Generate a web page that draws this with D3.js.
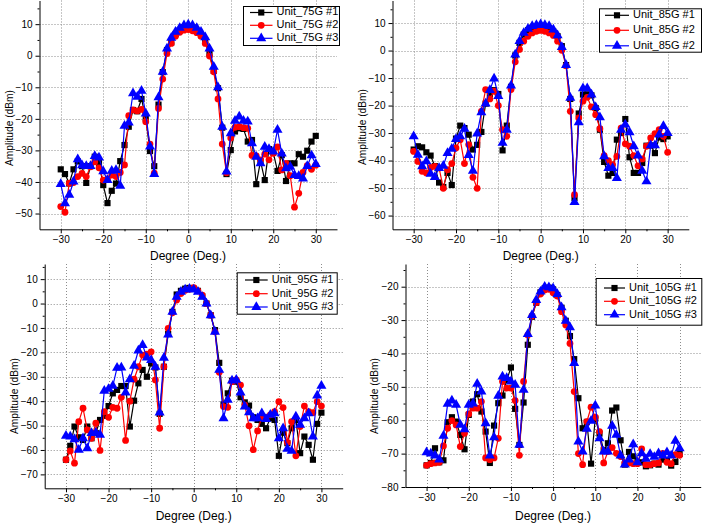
<!DOCTYPE html>
<html><head><meta charset="utf-8">
<script src="https://cdn.jsdelivr.net/npm/d3@7"></script>
<style>
body{margin:0;background:#fff}
svg{display:block}
text{font-family:Arial,"Liberation Sans",sans-serif;fill:#000}
</style>
</head><body>
<svg id="chart" width="706" height="526"></svg>
<script>
// ---------- DATA ----------
const degrees = [-30,-29,-28,-27,-26,-25,-24,-23,-22,-21,-20,-19,-18,-17,-16,-15,-14,-13,-12,-11,-10,-9,-8,-7,-6,-5,-4,-3,-2,-1,0,1,2,3,4,5,6,7,8,9,10,11,12,13,14,15,16,17,18,19,20,21,22,23,24,25,26,27,28,29,30];
const xTickValues = [-30,-20,-10,0,10,20,30];
const xMinorValues = [-25,-15,-5,5,15,25];

const names75 = ["Unit_75G #1","Unit_75G #2","Unit_75G #3"];
const names85 = ["Unit_85G #1","Unit_85G #2","Unit_85G #2"];
const names95 = ["Unit_95G #1","Unit_95G #2","Unit_95G #3"];
const names105 = ["Unit_105G #1","Unit_105G #2","Unit_105G #3"];

const yTicks75 = [-50,-40,-30,-20,-10,0,10];
const yTicks85 = [-60,-50,-40,-30,-20,-10,0,10];
const yTicks95 = [-70,-60,-50,-40,-30,-20,-10,0,10];
const yTicks105 = [-80,-70,-60,-50,-40,-30,-20];

const unit75_1 = [-36,-37.5,-40.5,-36,-33.5,-35,-40.3,-35,-32,-34, -41,-46.7,-42.8,-40.5,-33.4,-28.3,-22.5,-17.2,-17.6,-13.7, -19.8,-30.2,-35,-15.5,-5.2,1.8,4.2,6.9,8.1,9, 9.4, 9,7.9,6.5,4.8,0.7,-4.8,-10.3,-22.8,-37.5,-29.9, -24,-23,-23.2,-27.2,-26.7,-40.7,-33.4,-39.4,-29.6,-30.7, -36.5,-31.5,-39.7,-34.1,-34.1,-31.2,-32,-30.1,-27.2,-25.4];
const unit75_2 = [-47.8,-49.6,-40.4,-40.2,-38.3,-37.3,-38.3,-35.2,-33.6,-35.5, -39.4,-39,-37.8,-38.3,-37,-34.6,-19,-17.2,-17.5,-17, -20.9,-28,-37.2,-16.7,-7.4,0.7,3.9,6.2,7.4,8.1, 8.3, 7.9,7.3,6.2,3.9,-0.1,-5.1,-13.7,-28,-37.1,-26.1, -22.7,-22.5,-22.8,-23,-31.6,-31.7,-33,-31.2,-33,-30.9, -28.9,-36.2,-34.1,-38,-48,-43.6,-37,-34.8,-36,-34.7];
const unit75_3 = [-40.7,-46.8,-44.1,-39.9,-32.8,-34.7,-35,-35,-31.8,-32.3, -36.6,-39.4,-36.5,-36.2,-41.2,-22.2,-21.2,-11.9,-13,-11.1, -18.3,-28.8,-37.5,-13.2,-5.1,2.3,5.7,7.6,8.8,9.6, 9.9, 9.6,8.8,7.6,5.8,2.3,-3.5,-10,-22.5,-36.7,-24.6, -20.6,-19.3,-20.6,-20.9,-27.8,-32,-34.1,-28.9,-29.6,-30.4, -23.5,-31,-35.7,-35.2,-37.8,-38.1,-38.9,-35,-31.6,-34.3];

const unit85_1 = [-36,-34.8,-35.2,-37,-38.2,-42,-48,-49.6,-44.5,-48.9, -32,-27.3,-28.2,-30.6,-36,-34.3,-29.6,-19.3,-16,-14.4, -15.8,-36.3,-27.3,-13.2,-1.8,2.8,5.8,7.4,8.3,8.6, 8.9, 8.6,8.1,6.9,5.2,1.6,-5.3,-17.6,-53.6,-22.9,-16, -15.9,-16.3,-20.9,-28.8,-40.5,-45.5,-44.5,-32.4,-30,-24.9, -38.8,-44.5,-44.5,-40.9,-34.6,-34.5,-37.3,-31.6,-32.2,-31.2];
const unit85_2 = [-36.7,-40.3,-43.9,-44.5,-42.5,-42.1,-42.7,-50.1,-43.3,-41.1, -35.4,-32.4,-41.1,-34.2,-46.1,-50.1,-22.1,-14.2,-17.6,-14.8, -20,-28.8,-31.2,-14.2,-4.1,0.4,3.4,5.2,6.4,7, 7.3, 7,6.4,5.5,3.4,0.1,-5.5,-22.1,-52.4,-24.5,-18.4, -17,-20.5,-23.3,-28.4,-38.2,-40,-41.5,-38.5,-28.2,-33.9, -34.8,-38.2,-41.9,-39.4,-34.8,-31.8,-30.2,-28.8,-31.2,-37];
const unit85_3 = [-31.2,-37.9,-42.1,-40.3,-44.8,-46,-42.7,-41.9,-37.3,-35.7, -32.2,-31.2,-28.5,-38,-43.7,-30.2,-22.5,-19.3,-14.4,-10.2, -16.6,-33.6,-28.8,-12.7,-1.5,3.4,6.4,7.9,8.9,9.3, 9.5, 9.3,8.9,7.6,5.5,1.3,-5.3,-17.2,-55.1,-26.1,-13.7, -13.7,-16,-20.6,-24.3,-38.5,-42.7,-42.7,-46.4,-28.8,-26.9, -29.7,-34.8,-38.2,-43.7,-47.6,-34.5,-34.5,-30.6,-27.5,-30];

const unit95_1 = [-64,-58.3,-50.4,-54.8,-55.9,-50.4,-55.2,-53.1,-47.7,-46, -42,-36.8,-35.4,-33.8,-33.8,-50.4,-39.8,-32.7,-27.2,-30, -24.5,-26.2,-45.2,-25.9,-12.5,-3.4,3.7,5.2,6.1,6.4, 6.1, 5.2,3,0,-4.8,-10.9,-24.3,-41.3,-36.8,-31.6,-32, -38.4,-40.5,-41.8,-46.6,-47.7,-49.3,-51.1,-47,-47.7,-62.4, -52.9,-57.2,-51.1,-47.7,-61.3,-54.5,-57.9,-64,-49.3,-44.7];
const unit95_2 = [-64,-60.4,-65.4,-48.4,-42.9,-51.8,-55.2,-49,-60.2,-44.3, -46.6,-42.5,-42.9,-38.4,-56.1,-40,-31,-25.9,-21.1,-20.7, -19.8,-31.3,-51.1,-25.9,-10.2,-3.8,1.4,4.1,5.4,5.9, 6.5, 5.2,3.4,0,-4.8,-11.6,-28.2,-42.2,-42.5,-32,-31.3, -33.4,-41.6,-50.1,-59.9,-52.2,-46.3,-46.6,-45.6,-44.3,-40.2, -42.6,-56.9,-48.4,-62.4,-50.4,-42,-44.3,-44.7,-40.2,-42];
const unit95_3 = [-54.2,-54.5,-55.6,-59.9,-55.2,-59.3,-53.1,-52.9,-53.8,-35.8, -35,-33.7,-26.3,-26.2,-36.5,-31.1,-25.5,-19.3,-17,-22.1, -23.2,-25.9,-44.7,-22.2,-12.7,-3.4,2.7,4.8,5.7,6, 5.7, 4.8,2.7,0,-4.8,-11.6,-27.2,-47,-39.5,-31.6,-31.3, -36.5,-42.2,-44.6,-47,-47,-45,-47.3,-45.6,-45,-55.2, -51.1,-59.5,-60.4,-46.3,-49.7,-47,-45,-54.5,-37.7,-33.7];

const unit105_1 = [-73.5,-72.8,-68.4,-72.6,-72,-60.6,-59.1,-60.4,-64.4,-68.7, -58.4,-54.4,-52.2,-57.4,-63.4,-72.8,-61.6,-54.9,-52.6,-48, -44.2,-56.6,-67.4,-54.7,-37.4,-29,-24.8,-21.7,-20.5,-20.3, -20.8, -22.5,-26.3,-30.2,-34.8,-41.7,-53.4,-62.4,-60.5,-73,-59.5, -64,-69,-66.9,-57.1,-56.2,-66,-73.3,-69.5,-70.8,-72.8, -72.6,-73.8,-73.5,-73,-73.3,-71.8,-72,-73.6,-72.5,-70.1];
const unit105_2 = [-73.5,-73,-72.8,-72.6,-67.7,-62.4,-60.1,-61.4,-67.9,-63.9, -58.1,-56.4,-56.4,-54.4,-71.3,-71.8,-71.3,-65.4,-48.4,-50.4, -50.4,-54.1,-70.5,-48.4,-34.5,-28.8,-24.8,-22.2,-21,-20.8, -21.8, -22.8,-27.5,-31.5,-37,-51.4,-70,-73.3,-60.4,-56.1,-59.1, -63.4,-72.8,-69.4,-68.2,-69.9,-70.9,-72.8,-72.8,-73,-73, -68.6,-73.3,-73.3,-73,-72.8,-69.9,-72.6,-73,-70.3,-70.5];
const unit105_3 = [-69.6,-70,-70.6,-71.8,-64.7,-55.1,-54.1,-55.4,-61.4,-62.7, -55.4,-55,-49.1,-51.4,-60.9,-70.6,-65.1,-52.7,-46.9,-47.4, -48.4,-49.4,-67.4,-50.9,-34.2,-28.5,-24,-21.5,-20,-20.2, -20.5, -22.2,-26.2,-30.2,-32.2,-42.9,-66.4,-69.4,-62.6,-60.2,-55.6, -65.4,-69.4,-69.4,-61.7,-64.4,-70.6,-73.3,-71.8,-67.2,-72.6, -69.9,-71.6,-70.1,-71,-69.9,-70.6,-69.6,-70.6,-66.2,-68.4];

// ---------- LAYOUT / STYLE ----------
const colors = ["#000000","#ff0000","#0000ff"];
const symbols = [d3.symbolSquare, d3.symbolCircle, d3.symbolTriangle];
const symSizes = [38, 36, 44];

const panels = [
  {names:names75, series:[unit75_1,unit75_2,unit75_3], yTicks:yTicks75,
   x0:39.5, x1:337, yb:229.3, yt:0.5, ymin:-55, ymax:17.5,
   leg:{x:243,y:6,w:96,h:39,rows:[12.5,25.3,38.3],lx:250,tx:276.5},
   ylab:{x:10,y:128}, xlab:{x:188,y:257}},
  {names:names85, series:[unit85_1,unit85_2,unit85_3], yTicks:yTicks85,
   x0:392.5, x1:688.8, yb:229.3, yt:0.5, ymin:-65, ymax:18.2,
   leg:{x:599,y:8.3,w:102,h:43.4,rows:[15.3,30.3,45.8],lx:605,tx:633},
   ylab:{x:363,y:127}, xlab:{x:540.7,y:257}},
  {names:names95, series:[unit95_1,unit95_2,unit95_3], yTicks:yTicks95,
   x0:44.7, x1:342.7, yb:488.3, yt:264, ymin:-75.7, ymax:16.2,
   leg:{x:236.7,y:272.3,w:100,h:41.4,rows:[280,293.7,307],lx:245,tx:271.7},
   ylab:{x:15,y:396}, xlab:{x:193.7,y:516.5}},
  {names:names105, series:[unit105_1,unit105_2,unit105_3], yTicks:yTicks105,
   x0:405.5, x1:700.7, yb:487, yt:264, ymin:-80, ymax:-13.2,
   leg:{x:595.7,y:278,w:105.6,h:46.7,rows:[288,301.3,314.7],lx:604,tx:629},
   ylab:{x:374.7,y:396}, xlab:{x:553,y:516.5}}
];

const svg = d3.select("#chart");

panels.forEach(p => {
  const x = d3.scaleLinear().domain([-35,35]).range([p.x0,p.x1]);
  const y = d3.scaleLinear().domain([p.ymin,p.ymax]).range([p.yb,p.yt]);
  const g = svg.append("g");

  // grid
  const grid = g.append("g").attr("stroke","#8c8c8c").attr("stroke-width",1).attr("stroke-dasharray","1,2");
  grid.selectAll("line.vx").data(xTickValues).join("line")
    .attr("x1",d=>Math.round(x(d))+0.5).attr("x2",d=>Math.round(x(d))+0.5)
    .attr("y1",p.yt).attr("y2",p.yb);
  grid.selectAll("line.hy").data(p.yTicks).join("line")
    .attr("x1",p.x0).attr("x2",p.x1)
    .attr("y1",d=>Math.round(y(d))+0.5).attr("y2",d=>Math.round(y(d))+0.5);

  // axes
  const xa = g.append("g").attr("transform",`translate(0,${p.yb})`)
    .call(d3.axisBottom(x).tickValues(xTickValues).tickSize(4).tickPadding(3).tickSizeOuter(0));
  g.append("g").attr("transform",`translate(0,${p.yb})`)
    .call(d3.axisBottom(x).tickValues(xMinorValues).tickSize(2).tickFormat("").tickSizeOuter(0))
    .select(".domain").remove();
  const ya = g.append("g").attr("transform",`translate(${p.x0},0)`)
    .call(d3.axisLeft(y).tickValues(p.yTicks).tickSize(4).tickPadding(3).tickSizeOuter(0));
  const yMinor = p.yTicks.map(v=>v+5).filter(v=>v<=p.ymax);
  g.append("g").attr("transform",`translate(${p.x0},0)`)
    .call(d3.axisLeft(y).tickValues(yMinor).tickSize(2).tickFormat("").tickSizeOuter(0))
    .select(".domain").remove();
  [xa,ya].forEach(a=>{
    a.selectAll("text").attr("font-size",10).attr("font-family","Arial, 'Liberation Sans', sans-serif");
    a.select(".domain").attr("stroke","#000");
  });

  // axis titles
  g.append("text").attr("x",p.xlab.x).attr("y",p.xlab.y)
    .attr("text-anchor","middle").attr("dominant-baseline","middle")
    .attr("font-size",12).text("Degree (Deg.)");
  g.append("text").attr("transform",`translate(${p.ylab.x},${p.ylab.y}) rotate(-90)`)
    .attr("text-anchor","middle").attr("dominant-baseline","middle")
    .attr("font-size",11.5).attr("textLength",76).attr("lengthAdjust","spacingAndGlyphs")
    .text("Amplitude (dBm)");

  // series
  const line = d3.line().x((d,i)=>x(degrees[i])).y(d=>y(d));
  p.series.forEach((s,k)=>{
    g.append("path").datum(s).attr("d",line)
      .attr("fill","none").attr("stroke",colors[k]).attr("stroke-width",1.2);
    g.append("g").selectAll("path").data(s).join("path")
      .attr("transform",(d,i)=>`translate(${x(degrees[i])},${y(d)})`)
      .attr("d",d3.symbol().type(symbols[k]).size(symSizes[k])())
      .attr("fill",colors[k]);
  });

  // legend
  const L = p.leg;
  const lg = g.append("g");
  lg.append("rect").attr("x",L.x+0.5).attr("y",L.y+0.5).attr("width",L.w).attr("height",L.h)
    .attr("fill","#fff").attr("stroke","#000").attr("stroke-width",1);
  p.names.forEach((n,k)=>{
    const ry = L.rows[k];
    lg.append("line").attr("x1",L.lx).attr("x2",L.tx-4).attr("y1",ry).attr("y2",ry)
      .attr("stroke",colors[k]).attr("stroke-width",1.2);
    lg.append("path").attr("transform",`translate(${(L.lx+L.tx-4)/2},${ry})`)
      .attr("d",d3.symbol().type(symbols[k]).size(symSizes[k])()).attr("fill",colors[k]);
    lg.append("text").attr("x",L.tx).attr("y",ry).attr("dominant-baseline","middle")
      .attr("font-size",11).text(n);
  });
});
</script>
</body></html>
